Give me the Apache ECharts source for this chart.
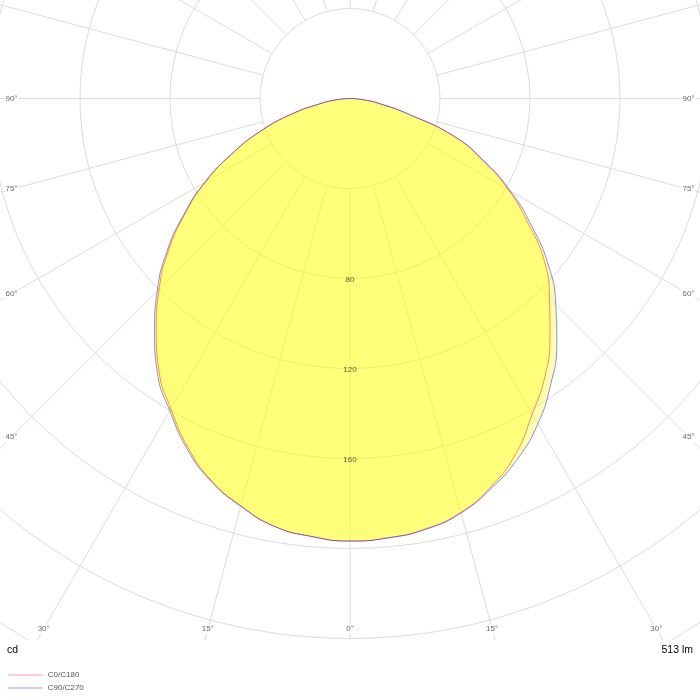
<!DOCTYPE html>
<html>
<head>
<meta charset="utf-8">
<script src="https://cdn.jsdelivr.net/npm/echarts@6/dist/echarts.min.js"></script>
<style>
  html, body { margin: 0; padding: 0; background: #fff; }
  #polar { width: 700px; height: 700px; }
</style>
</head>
<body>
<div id="polar"></div>
<script>
// gamma angles (degrees from nadir), same for every C-plane
var angles = [0, 5, 10, 15, 20, 25, 30, 35, 40, 45, 50, 55, 60, 65, 70, 75, 80, 85, 90];
// luminous intensity, cd
var c0   = [196.7, 196.0, 194.2, 190.4, 183.5, 174.3, 162.0, 151.0, 138.3, 125.4, 112.9, 96.6, 81.4, 64.9, 48.9, 26.8, 13.6, 5.5, 0];
var c180 = [196.7, 195.4, 193.1, 187.4, 180.5, 170.8, 159.2, 148.0, 134.0, 120.0, 105.4, 89.6, 74.1, 57.5, 42.0, 26.9, 13.7, 5.5, 0];
var c90  = [196.7, 196.0, 194.4, 190.7, 184.2, 176.5, 167.0, 155.4, 143.0, 129.3, 115.1, 98.5, 82.4, 65.8, 49.6, 27.0, 13.7, 5.5, 0];
var c270 = [196.7, 195.4, 193.1, 187.6, 180.9, 171.6, 160.2, 149.2, 135.2, 121.2, 106.4, 90.3, 74.6, 57.8, 42.2, 27.0, 13.7, 5.5, 0];

var angleTicks = [0, 15, 30, 45, 60, 75, 90];
var radiusTicks = [80, 120, 160];
var flux = '513 lm';
var unit = 'cd';

var dom = document.getElementById('polar');
var myChart = echarts.init(dom);

var CENTER = [350, 98.5];
// px per cd: 720 px for 320 cd
var PX_PER_CD = 2.25;
// where the angle labels sit: inset box round the polar centre
var EDGE_X = 338.5, EDGE_Y = 530.5;

// left half shows the opposite plane, right half the plane itself
function plane(right, left) {
    var pts = [];
    for (var i = angles.length - 1; i >= 0; i--) {
        pts.push([left[i], -angles[i]]);
    }
    for (var j = 1; j < angles.length; j++) {
        pts.push([right[j], angles[j]]);
    }
    return pts;
}

function edgeRadius(deg) {
    var a = deg * Math.PI / 180;
    var s = Math.sin(a), c = Math.cos(a);
    var r = Infinity;
    if (s > 1e-6) r = Math.min(r, EDGE_X / s);
    if (c > 1e-6) r = Math.min(r, EDGE_Y / c);
    return r / PX_PER_CD;
}

var angleLabelData = [];
angleTicks.forEach(function (t) {
    angleLabelData.push([edgeRadius(t), t, t + '°']);
    if (t > 0) angleLabelData.push([edgeRadius(t), -t, t + '°']);
});
var radiusLabelData = radiusTicks.map(function (v) { return [v, 0, String(v)]; });

var font = 'Liberation Sans, Arial, sans-serif';
var gridLine = { lineStyle: { color: '#dcdcdc', width: 1 } };

function labelSeries(data, extra) {
    var label = {
        show: true,
        position: 'inside',
        formatter: function (p) { return p.value[2]; },
        fontSize: 8,
        color: '#444',
        fontFamily: font
    };
    for (var k in extra) label[k] = extra[k];
    return {
        type: 'scatter',
        coordinateSystem: 'polar',
        polarIndex: 1,
        data: data,
        symbolSize: 1,
        clip: false,
        silent: true,
        itemStyle: { color: 'rgba(0,0,0,0)' },
        label: label,
        z: 5
    };
}

function planeSeries(name, right, left, stroke) {
    return {
        name: name,
        type: 'line',
        coordinateSystem: 'polar',
        polarIndex: 1,
        data: plane(right, left),
        symbol: 'none',
        clip: false,
        smooth: 0.5,
        itemStyle: { color: stroke },
        lineStyle: { color: stroke, width: 1 },
        areaStyle: { color: 'rgba(255,255,0,0.31)', opacity: 1 }
    };
}

var option = {
    animation: false,
    backgroundColor: '#fff',
    // polar 0 only draws the grid (starts at the 40 cd ring), polar 1 carries the data
    polar: [
        { center: CENTER, radius: [90, 720] },
        { center: CENTER, radius: 720 }
    ],
    angleAxis: [
        {
            polarIndex: 0,
            type: 'value',
            min: -180,
            max: 180,
            interval: 15,
            startAngle: 90,
            clockwise: false,
            axisLine: { show: false },
            axisTick: { show: false },
            axisLabel: { show: false },
            splitLine: gridLine
        },
        {
            polarIndex: 1,
            type: 'value',
            min: -180,
            max: 180,
            startAngle: 90,
            clockwise: false,
            show: false
        }
    ],
    radiusAxis: [
        {
            polarIndex: 0,
            type: 'value',
            min: 40,
            max: 320,
            interval: 40,
            axisLine: { show: false },
            axisTick: { show: false },
            axisLabel: { show: false },
            splitLine: gridLine
        },
        {
            polarIndex: 1,
            type: 'value',
            min: 0,
            max: 320,
            show: false
        }
    ],
    legend: {
        orient: 'vertical',
        left: 7,
        top: 671,
        z: 110,
        padding: 0,
        itemWidth: 35,
        itemHeight: 8,
        itemGap: 5,
        selectedMode: false,
        textStyle: { fontSize: 8, color: '#555', fontFamily: font },
        data: [
            { name: 'C0/C180', itemStyle: { color: 'rgba(0,0,0,0)', borderWidth: 0 }, lineStyle: { color: '#ffbcbc', width: 1.5 } },
            { name: 'C90/C270', itemStyle: { color: 'rgba(0,0,0,0)', borderWidth: 0 }, lineStyle: { color: '#bcbcff', width: 1.5 } }
        ]
    },
    graphic: [
        { type: 'rect', z: 100, shape: { x: 0, y: 640, width: 700, height: 60 }, style: { fill: '#fff' } },
        { type: 'text', z: 110, left: 7, top: 645, style: { text: unit, fill: '#000', font: '10.5px ' + font } },
        { type: 'text', z: 110, right: 7, top: 645, style: { text: flux, fill: '#000', font: '10.5px ' + font } }
    ],
    series: [
        planeSeries('C0/C180', c0, c180, 'rgba(255,0,0,0.45)'),
        planeSeries('C90/C270', c90, c270, 'rgba(0,0,255,0.45)'),
        labelSeries(radiusLabelData, { color: '#333', offset: [0, 1.5] }),
        labelSeries(angleLabelData, { backgroundColor: '#fff', padding: [1, 1] })
    ]
};

if (option && typeof option === 'object') {
    myChart.setOption(option, true);
}
</script>
</body>
</html>
